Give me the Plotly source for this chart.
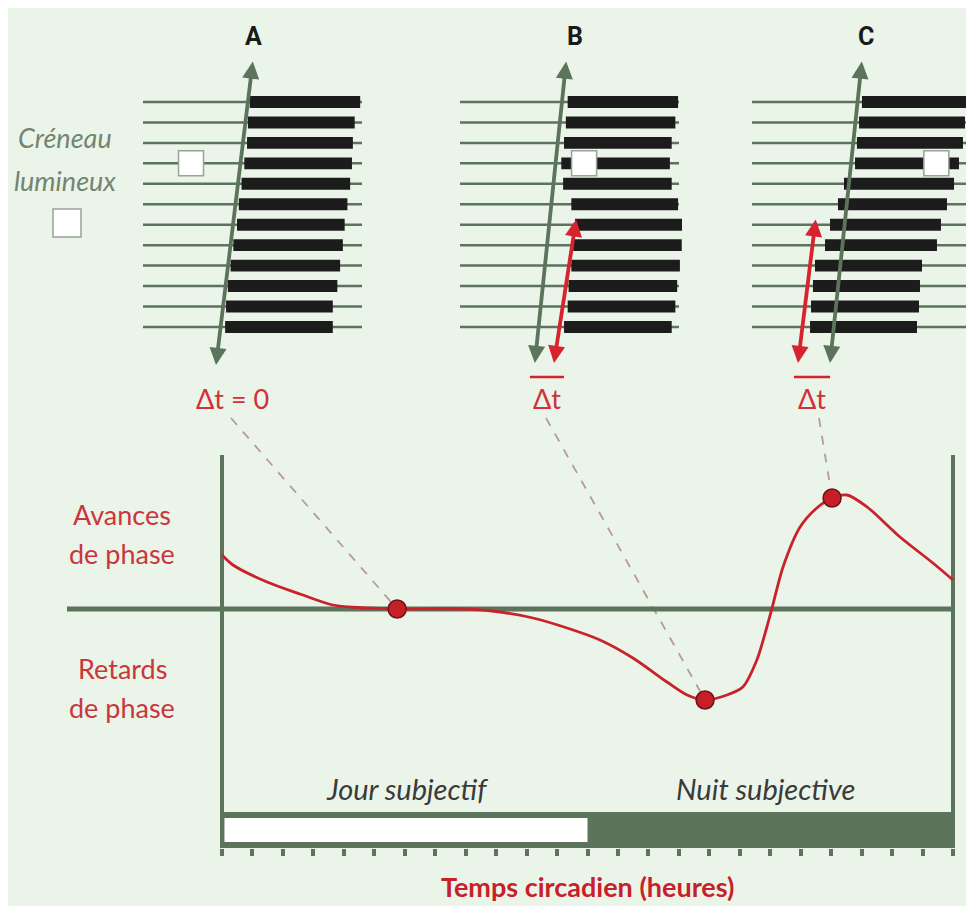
import plotly.graph_objects as go

# ---------------- data ----------------
# Phase response curve (circadian hours, phase shift in arbitrary hours)
prc_hour = [0, 0.36, 1.48, 2.56, 3.64, 4.76, 5.75, 8.04, 9.13, 10.21, 11.33, 12.41, 13.49,
            14.61, 15.27, 15.86, 16.58, 17.1, 17.56, 17.89, 18.06, 18.42, 18.98, 19.53,
            20.03, 20.52, 21.18, 22.26, 23.34, 24.0]
prc_shift = [1.35, 1.1, 0.675, 0.375, 0.1, 0.025, 0.0, 0.0, -0.075, -0.225, -0.475, -0.775, -1.225,
             -1.825, -2.15, -2.275, -2.15, -1.95, -1.275, -0.45, 0.025, 1.05, 2.05, 2.525,
             2.775, 2.85, 2.55, 1.8, 1.15, 0.725]
pulse_hour = [5.75, 15.86, 20.03]      # A, B, C on the PRC
pulse_shift = [0.0, -2.275, 2.775]
day_period = [0, 12]
night_period = [12, 24]
hour_ticks = list(range(0, 25))

days = list(range(1, 13))
a_onset = [11.7, 11.5, 11.4, 11.1, 10.8, 10.5, 10.3, 9.9, 9.6, 9.3, 9.1, 9.0]
a_offset = [23.8, 23.2, 23.0, 22.9, 22.7, 22.4, 22.1, 21.9, 21.6, 21.3, 20.8, 20.8]
b_onset = [11.8, 11.6, 11.4, 11.1, 11.3, 12.2, 12.6, 12.4, 12.2, 11.9, 11.8, 11.4]
b_offset = [23.9, 23.6, 23.2, 23.0, 23.2, 23.9, 24.5, 24.3, 24.1, 23.8, 23.6, 23.2]
c_onset = [12.05, 11.73, 11.5, 11.29, 10.08, 9.42, 8.55, 8.0, 6.9, 6.68, 6.47, 6.36]
c_offset = [23.67, 23.34, 23.12, 22.68, 22.14, 21.37, 20.71, 20.27, 18.63, 18.41, 18.3, 18.08]
light_pulse_day = 4
light_pulse_hour = [5.26, 13.6, 20.2]
# free-running extrapolation (green) and shifted rhythm (red): (hour, day) end points
green_top = [(12.05, -1.05), (11.65, -1.05), (12.05, -1.05)]
green_bot = [(8.0, 13.86), (8.2, 13.76), (8.55, 13.76)]
red_top = [None, (12.75, 6.67), (7.0, 6.67)]
red_bot = [None, (10.3, 13.76), (5.04, 13.76)]
delta_bar = [None, (7.67, 11.4), (4.6, 8.55)]
panel_labels = ["A", "B", "C"]
delta_labels = ["Δt = 0", "Δt", "Δt"]

# ---------------- styles / geometry ----------------
OFF = 8                      # page body margin
W, H = 974 - OFF, 906 - OFF
GREEN = "#5b745b"
RED = "#c9222b"
TXT_RED = "#c9363c"
BG = "#ebf4e8"
FONT = "Lato"

def px(x): return (x - OFF) / W
def py(y): return 1 - (y - OFF) / H

# main axes geometry (reference pixels)
M_X0, M_PPH = 222, 731 / 24      # x pixel of hour 0, pixels per hour
M_Y0, M_PPU = 609, 40            # y pixel of zero shift, pixels per unit
mx_dom = (40, 974)
my_dom = (440, 848)

def m2px(h, v):
    return M_X0 + h * M_PPH, M_Y0 - v * M_PPU

# actogram panel geometry
P_L = [143, 460, 752]            # x pixel of hour 0 of each panel
P_PPH = 9.125
P_Y1, P_PPD = 102, 20.45
py_dom = (40, 380)

fig = go.Figure()
layout_axes = {}

layout_axes["xaxis"] = dict(
    domain=[px(mx_dom[0]), min(1.0, px(mx_dom[1]))],
    range=[(mx_dom[0] - M_X0) / M_PPH, (mx_dom[1] - M_X0) / M_PPH],
    showgrid=False, zeroline=False, showline=False, showticklabels=False,
    ticks="outside", tickvals=hour_ticks, ticklen=7, tickwidth=4, tickcolor=GREEN,
    anchor="y", fixedrange=True)
layout_axes["yaxis"] = dict(
    domain=[py(my_dom[1]), py(my_dom[0])],
    range=[(M_Y0 - my_dom[1]) / M_PPU, (M_Y0 - my_dom[0]) / M_PPU],
    showgrid=False, zeroline=False, showline=False, showticklabels=False,
    anchor="x", fixedrange=True)

shapes = [dict(type="rect", xref="paper", yref="paper", x0=0, x1=1, y0=0, y1=1,
               fillcolor=BG, line=dict(width=0), layer="below")]

onsets = [a_onset, b_onset, c_onset]
offsets = [a_offset, b_offset, c_offset]
annotations = []

for i in range(3):
    xa = f"x{i+2}"
    ya = f"y{i+2}"
    L = P_L[i]
    layout_axes[f"xaxis{i+2}"] = dict(
        domain=[px(L - 30), min(1.0, px(L + 222))],
        range=[-30 / P_PPH, 222 / P_PPH],
        showgrid=False, zeroline=False, showline=False, showticklabels=False,
        anchor=ya, fixedrange=True)
    layout_axes[f"yaxis{i+2}"] = dict(
        domain=[py(py_dom[1]), py(py_dom[0])],
        range=[1 + (py_dom[1] - P_Y1) / P_PPD, 1 + (py_dom[0] - P_Y1) / P_PPD],
        showgrid=False, zeroline=False, showline=False, showticklabels=False,
        anchor=xa, fixedrange=True)
    # day lines (below the activity bars)
    for d in days:
        shapes.append(dict(type="line", xref=xa, yref=ya, x0=0, x1=24, y0=d, y1=d,
                           line=dict(color=GREEN, width=2.5), layer="below"))
    # activity bars
    fig.add_trace(go.Bar(orientation="h", y=days,
                         x=[off - on for on, off in zip(onsets[i], offsets[i])],
                         base=onsets[i], width=0.58, xaxis=xa, yaxis=ya,
                         marker=dict(color="#1c1c1c", line=dict(width=0))))
    # light pulse
    fig.add_trace(go.Scatter(x=[light_pulse_hour[i]], y=[light_pulse_day], mode="markers",
                             xaxis=xa, yaxis=ya,
                             marker=dict(symbol="square", size=25, color="white",
                                         line=dict(color="#97a397", width=1.5))))
    # green arrow
    (gx1, gy1), (gx0, gy0) = green_top[i], green_bot[i]
    annotations.append(dict(x=gx0, y=gy0, ax=gx1, ay=gy1, xref=xa, yref=ya, axref=xa, ayref=ya,
                            text="", showarrow=True, arrowhead=2, arrowside="end+start",
                            arrowsize=0.9, arrowwidth=3.8, arrowcolor=GREEN))
    if red_top[i] is not None:
        (rx1, ry1), (rx0, ry0) = red_top[i], red_bot[i]
        annotations.append(dict(x=rx0, y=ry0, ax=rx1, ay=ry1, xref=xa, yref=ya, axref=xa, ayref=ya,
                                text="", showarrow=True, arrowhead=2, arrowside="end+start",
                                arrowsize=0.9, arrowwidth=3.8, arrowcolor="#d7232e"))
        b0, b1 = delta_bar[i]
        fig.add_trace(go.Scatter(x=[b0, b1], y=[14.45, 14.45], mode="lines", xaxis=xa, yaxis=ya,
                                 line=dict(color="#d7232e", width=2.5), hoverinfo="skip"))

# main curve
fig.add_trace(go.Scatter(x=prc_hour, y=prc_shift, mode="lines", xaxis="x", yaxis="y",
                         line=dict(color=RED, width=2.8, shape="spline", smoothing=0.8),
                         hoverinfo="skip"))
fig.add_trace(go.Scatter(x=pulse_hour, y=pulse_shift, mode="markers", xaxis="x", yaxis="y",
                         marker=dict(size=18, color="#c61f28", line=dict(color="#6b1418", width=1.5))))

# main axes lines
zero_left = (67 - M_X0) / M_PPH
top_v = (M_Y0 - 455) / M_PPU
bot_v = (M_Y0 - 848) / M_PPU
shapes += [
    dict(type="line", xref="x", yref="y", x0=zero_left, x1=24, y0=0, y1=0,
         line=dict(color=GREEN, width=5), layer="below"),
    dict(type="line", xref="x", yref="y", x0=0, x1=0, y0=top_v, y1=bot_v,
         line=dict(color=GREEN, width=4), layer="below"),
    dict(type="line", xref="x", yref="y", x0=24, x1=24, y0=top_v, y1=bot_v,
         line=dict(color=GREEN, width=4), layer="below"),
    # day / night bar
    dict(type="rect", xref="x", yref="y", x0=day_period[0], x1=night_period[1],
         y0=(M_Y0 - 812) / M_PPU, y1=bot_v, fillcolor=GREEN, line=dict(width=0), layer="below"),
    dict(type="rect", xref="x", yref="y", x0=day_period[0] + 0.08, x1=day_period[1],
         y0=(M_Y0 - 818) / M_PPU, y1=(M_Y0 - 842) / M_PPU, fillcolor="white",
         line=dict(width=0), layer="below"),
]

# dashed connectors from panel Δt labels to PRC points
starts = [(231, 418), (546, 418), (819, 418)]
for (sx, sy), h, v in zip(starts, pulse_hour, pulse_shift):
    ex, ey = m2px(h, v)
    shapes.append(dict(type="line", xref="paper", yref="paper", x0=px(sx), y0=py(sy),
                       x1=px(ex), y1=py(ey), line=dict(color="#b79a98", width=1.8, dash="dash"),
                       layer="below"))

# legend swatch
shapes.append(dict(type="rect", xref="paper", yref="paper", x0=px(53), x1=px(81),
                   y0=py(237), y1=py(209), fillcolor="white",
                   line=dict(color="#97a397", width=1.5), layer="above"))

def ann(text, x, y, size, color, **kw):
    annotations.append(dict(text=text, x=px(x), y=py(y), xref="paper", yref="paper",
                            showarrow=False, xanchor="center", yanchor="middle",
                            font=dict(family=kw.pop("family", FONT), size=size, color=color), **kw))

for lab, xpos in zip(panel_labels, [253, 575, 866]):
    ann(f"<b>{lab}</b>", xpos, 36, 25, "#1a1a1a", family="Roboto")
for lab, xpos in zip(delta_labels, [232, 547, 812]):
    ann(lab, xpos, 398, 27, "#d0313a")

ann("<i>Créneau</i>", 65, 137, 27, "#738473")
ann("<i>lumineux</i>", 65, 180, 27, "#738473")
ann("Avances", 122, 515, 27, TXT_RED)
ann("de phase", 122, 553, 27, TXT_RED)
ann("Retards", 122, 668, 27, TXT_RED)
ann("de phase", 122, 707, 27, TXT_RED)
ann("<i>Jour subjectif</i>", 407, 788, 29, "#3a3a3a")
ann("<i>Nuit subjective</i>", 765, 788, 29, "#3a3a3a")
ann("<b>Temps circadien (heures)</b>", 587, 886, 27, "#c81f2a")

fig.update_layout(width=W, height=H, margin=dict(l=0, r=0, t=0, b=0),
                  paper_bgcolor="white", plot_bgcolor="rgba(0,0,0,0)",
                  showlegend=False, barmode="overlay", shapes=shapes, annotations=annotations,
                  **layout_axes)

fig.write_html("out.html")
